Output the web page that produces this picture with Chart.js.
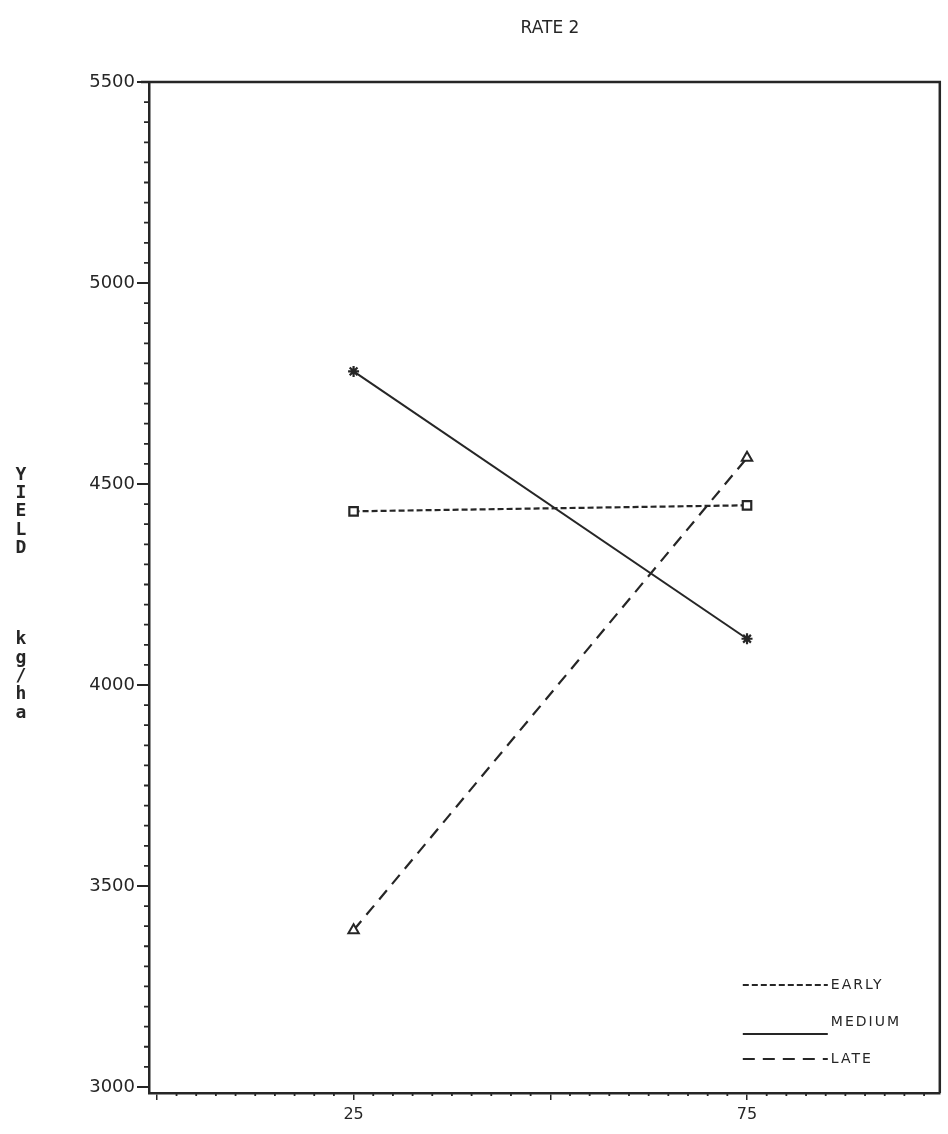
<!DOCTYPE html>
<html>
<head>
<meta charset="utf-8">
<title>RATE 2</title>
<script src="https://cdn.jsdelivr.net/npm/chart.js@4.4.1/dist/chart.umd.min.js"></script>
<style>
  html, body { margin: 0; padding: 0; background: #fff; }
  #wrap { width: 948px; height: 1134px; position: relative; }
</style>
</head>
<body>
<div id="wrap"><canvas id="chart"></canvas></div>
<script>
// values
const xValues = [25, 75];
const early = [4432, 4447];
const medium = [4780, 4115];
const late = [3390, 4565];
const seriesNames = ["EARLY", "MEDIUM", "LATE"];
const yTicks = [3000, 3500, 4000, 4500, 5000, 5500];
const xTicks = [0, 25, 50, 75];
const xLabelled = [25, 75];
const yLabel = ["Y", "I", "E", "L", "D", "", "", "", "", "k", "g", "/", "h", "a"];

const ink = "#262626";

function toPoints(ys) {
  return xValues.map((x, i) => ({ x: x, y: ys[i] }));
}

const decor = {
  id: "decor",
  afterDraw(chart) {
    const ctx = chart.ctx;
    const a = chart.chartArea;
    const x = chart.scales.x;
    const y = chart.scales.y;
    ctx.save();
    ctx.strokeStyle = ink;
    ctx.fillStyle = ink;

    // frame top + right
    ctx.lineWidth = 2.5;
    ctx.beginPath();
    ctx.moveTo(a.left - 8, a.top);
    ctx.lineTo(a.right, a.top);
    ctx.lineTo(a.right, a.bottom);
    ctx.stroke();

    // minor ticks
    ctx.lineWidth = 1.8;
    ctx.beginPath();
    for (let v = 3050; v < 5500; v += 50) {
      if (v % 500 === 0) continue;
      const py = y.getPixelForValue(v);
      ctx.moveTo(a.left - 5, py);
      ctx.lineTo(a.left, py);
    }
    for (let v = 2.5; v < 100; v += 2.5) {
      if (v % 25 === 0) continue;
      const px = x.getPixelForValue(v);
      if (px > a.right) break;
      ctx.moveTo(px, a.bottom);
      ctx.lineTo(px, a.bottom + 3);
    }
    ctx.stroke();

    // title
    ctx.font = "17px 'DejaVu Sans'";
    ctx.textAlign = "center";
    ctx.textBaseline = "middle";
    ctx.fillText("RATE 2", 550, 29);

    // stacked y label
    ctx.font = "bold 18px 'DejaVu Sans Mono'";
    yLabel.forEach((ch, i) => {
      if (ch) ctx.fillText(ch, 21, 475 + i * 18.3);
    });

    // legend
    const x0 = a.right - 197, x1 = a.right - 112;
    const rows = [a.bottom - 108, a.bottom - 71, a.bottom - 34];
    ctx.font = "14px 'DejaVu Sans'";
    ctx.letterSpacing = "2px";
    ctx.textAlign = "left";
    chart.data.datasets.forEach((ds, i) => {
      const ly = i === 1 ? rows[i] + 12 : rows[i];
      ctx.setLineDash(ds.borderDash || []);
      ctx.lineWidth = ds.borderWidth;
      ctx.beginPath();
      ctx.moveTo(x0, ly);
      ctx.lineTo(x1, ly);
      ctx.stroke();
      ctx.setLineDash([]);
      ctx.fillText(ds.label, x1 + 3, rows[i]);
    });
    ctx.restore();
  }
};

const ctx = document.getElementById("chart");
new Chart(ctx, {
  type: "line",
  data: {
    datasets: [
      {
        label: seriesNames[0],
        data: toPoints(early),
        borderColor: ink,
        borderWidth: 2.2,
        borderDash: [6, 3],
        pointStyle: "rect",
        pointRadius: 6,
        pointBackgroundColor: "#fff",
        pointBorderColor: ink,
        pointBorderWidth: 2.2
      },
      {
        label: seriesNames[1],
        data: toPoints(medium),
        borderColor: ink,
        borderWidth: 2,
        pointStyle: "star",
        pointRadius: 5.5,
        pointBorderColor: ink,
        pointBorderWidth: 2.2
      },
      {
        label: seriesNames[2],
        data: toPoints(late),
        borderColor: ink,
        borderWidth: 2.2,
        borderDash: [12, 8],
        pointStyle: "triangle",
        pointRadius: 6,
        pointBackgroundColor: "#fff",
        pointBorderColor: ink,
        pointBorderWidth: 2
      }
    ]
  },
  options: {
    responsive: true,
    maintainAspectRatio: false,
    animation: false,
    layout: { padding: { top: 82, right: 6, left: 0, bottom: 0 } },
    plugins: {
      legend: { display: false },
      tooltip: { enabled: false },
      title: { display: false }
    },
    scales: {
      x: {
        type: "linear",
        min: -1,
        max: 99.5,
        afterBuildTicks: (s) => { s.ticks = xTicks.map((v) => ({ value: v })); },
        afterFit: (s) => { s.height = 41; },
        ticks: {
          color: ink,
          font: { family: "DejaVu Sans", size: 16 },
          padding: 5,
          maxRotation: 0,
          autoSkip: false,
          callback: (v) => (xLabelled.includes(v) ? String(v) : "")
        },
        grid: { drawOnChartArea: false, tickLength: 7, color: ink, lineWidth: 1.5 },
        border: { display: true, color: ink, width: 2.5 }
      },
      y: {
        min: 2985,
        max: 5500,
        afterBuildTicks: (s) => { s.ticks = yTicks.map((v) => ({ value: v })); },
        afterFit: (s) => { s.width = 149; },
        ticks: {
          color: ink,
          font: { family: "DejaVu Sans", size: 18 },
          padding: 2,
          autoSkip: false,
          callback: (v) => String(v)
        },
        grid: { drawOnChartArea: false, tickLength: 12, color: ink, lineWidth: 2 },
        border: { display: true, color: ink, width: 2.5 }
      }
    }
  },
  plugins: [decor]
});
</script>
</body>
</html>
